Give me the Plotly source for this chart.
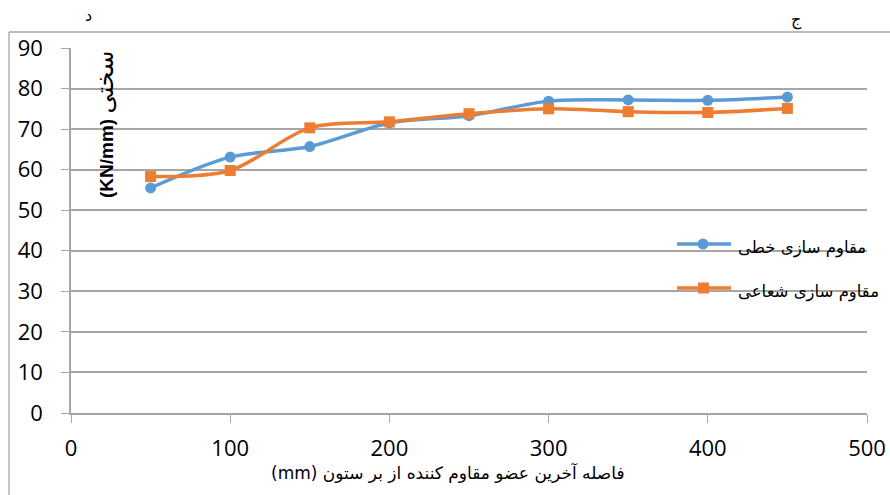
import plotly.graph_objects as go

distance = [50, 100, 150, 200, 250, 300, 350, 400, 450]
linear = [55.5, 63.1, 65.7, 71.5, 73.3, 76.9, 77.2, 77.1, 77.9]
radial = [58.3, 59.8, 70.3, 71.8, 73.8, 75.0, 74.3, 74.1, 75.1]
names = ["مقاوم سازی خطی", "مقاوم سازی شعاعی"]
colors = ["#5B9BD5", "#ED7D31"]
x_title = "فاصله آخرین عضو مقاوم کننده از بر ستون (mm)"
y_unit = "(KN/mm)"
y_word = "سختی"

W, H = 890, 495
L, R, T, B = 71, 23, 48, 82
pw, ph = W - L - R, H - T - B

def px(x):
    return (x - L) / pw

def py(y):
    return (H - B - y) / ph

fig = go.Figure()
fig.add_trace(go.Scatter(x=distance, y=linear, mode="lines+markers", name=names[0],
                         line=dict(color=colors[0], width=3.5, shape="spline", smoothing=0.9),
                         marker=dict(symbol="circle", size=11, color=colors[0]), showlegend=False))
fig.add_trace(go.Scatter(x=distance, y=radial, mode="lines+markers", name=names[1],
                         line=dict(color=colors[1], width=3.5, shape="spline", smoothing=0.9),
                         marker=dict(symbol="square", size=11, color=colors[1]), showlegend=False))

shapes = []
annotations = []
# custom legend (symbol left of RTL text)
for i, (nm, c) in enumerate(zip(names, colors)):
    yy = 244 + i * 44
    shapes.append(dict(type="line", xref="paper", yref="paper", x0=px(677), x1=px(731),
                       y0=py(yy), y1=py(yy), line=dict(color=c, width=3.5)))
    if i == 0:
        shapes.append(dict(type="circle", xref="paper", yref="paper", x0=px(697.5), x1=px(708.5),
                           y0=py(yy - 5.5), y1=py(yy + 5.5), fillcolor=c, line=dict(width=0)))
    else:
        shapes.append(dict(type="rect", xref="paper", yref="paper", x0=px(698), x1=px(709),
                           y0=py(yy - 5.5), y1=py(yy + 5.5), fillcolor=c, line=dict(width=0)))
    annotations.append(dict(text=nm, xref="paper", yref="paper", x=px(736), y=py(yy + 4),
                            xanchor="left", yanchor="middle", showarrow=False,
                            font=dict(family="DejaVu Sans", size=16.5, color="#000")))

# outer frame (left and top edges)
shapes.append(dict(type="line", xref="paper", yref="paper", x0=px(9), x1=px(895),
                   y0=py(32), y1=py(32), line=dict(color="#A6A6A6", width=1.3)))
shapes.append(dict(type="line", xref="paper", yref="paper", x0=px(9), x1=px(9),
                   y0=py(32), y1=py(500), line=dict(color="#A6A6A6", width=1.3)))

annotations.append(dict(text="\u202B" + x_title + "\u202C", xref="paper", yref="paper",
                        x=px(448), y=py(472),
                        xanchor="center", yanchor="middle", showarrow=False,
                        font=dict(family="DejaVu Sans", size=17, color="#000")))
annotations.append(dict(text="<b>" + y_unit + "</b> <span style='font-size:24px'>" + y_word + "</span>",
                        xref="paper", yref="paper", x=px(104), y=py(125),
                        xanchor="center", yanchor="middle", showarrow=False, textangle=-90,
                        font=dict(family="Liberation Sans, DejaVu Sans", size=19, color="#000")))
annotations.append(dict(text="د", xref="paper", yref="paper", x=px(88), y=py(15),
                        xanchor="center", yanchor="middle", showarrow=False,
                        font=dict(family="DejaVu Sans", size=16, color="#000")))
annotations.append(dict(text="ج", xref="paper", yref="paper", x=px(796), y=py(20),
                        xanchor="center", yanchor="middle", showarrow=False,
                        font=dict(family="DejaVu Sans", size=16, color="#000")))

fig.update_layout(
    width=W, height=H,
    margin=dict(l=L, r=R, t=T, b=B),
    paper_bgcolor="white", plot_bgcolor="white",
    shapes=shapes, annotations=annotations,
    xaxis=dict(range=[0, 500], tickvals=[0, 100, 200, 300, 400, 500], showgrid=False,
               showline=True, linecolor="#A6A6A6", linewidth=1.5, ticks="outside",
               ticklen=8, tickcolor="#A6A6A6", tickwidth=1.3, zeroline=False,
               ticklabelstandoff=7, automargin=False,
               tickfont=dict(family="Open Sans", size=22, color="#000")),
    yaxis=dict(range=[0, 90], tickvals=list(range(0, 91, 10)), showgrid=True,
               gridcolor="#A6A6A6", gridwidth=1.5, showline=True, linecolor="#A6A6A6",
               linewidth=1.5, ticks="outside", ticklen=8, tickcolor="#A6A6A6", tickwidth=1.3,
               zeroline=False, ticklabelstandoff=14, automargin=False,
               tickfont=dict(family="Open Sans", size=22, color="#000")),
)

fig.write_html("out.html")
